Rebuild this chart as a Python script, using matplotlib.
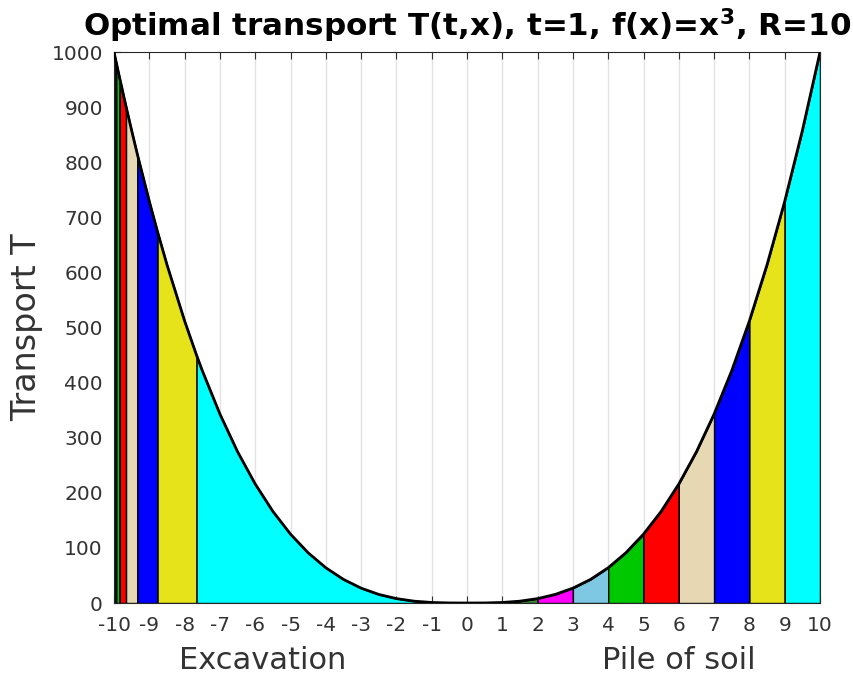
import matplotlib.pyplot as plt
import numpy as np

plt.rcParams['axes.unicode_minus'] = False

# curva T(x) (|x|^3), con los bordes de las franjas incluidos
x_curva = [-10, -9.996, -9.98, -9.935, -9.84, -9.659, -9.5, -9.337, -9, -8.766,
           -8.5, -8, -7.66, -7.5, -7, -6.5, -6, -5.5, -5, -4.5, -4, -3.5, -3,
           -2.5, -2, -1.5, -1, -0.5, 0, 0.5, 1, 1.5, 2, 2.5, 3, 3.5, 4, 4.5,
           5, 5.5, 6, 6.5, 7, 7.5, 8, 8.5, 9, 9.5, 10]
T_curva = [1000, 998.8, 994.01, 980.63, 952.76, 901.15, 857.38, 813.99, 729, 673.6,
           614.13, 512, 449.45, 421.88, 343, 274.63, 216, 166.38, 125, 91.13, 64, 42.88, 27,
           15.63, 8, 3.38, 1, 0.13, 0, 0.13, 1, 3.38, 8, 15.63, 27, 42.88, 64, 91.13,
           125, 166.38, 216, 274.63, 343, 421.88, 512, 614.13, 729, 857.38, 1000]

# franjas de la pila (derecha) y su excavacion correspondiente (izquierda)
pila_izq = [1, 2, 3, 4, 5, 6, 7, 8, 9]
pila_der = [2, 3, 4, 5, 6, 7, 8, 9, 10]
exc_izq = [-10, -9.996, -9.98, -9.935, -9.84, -9.659, -9.337, -8.766, -7.66]
exc_der = [-9.996, -9.98, -9.935, -9.84, -9.659, -9.337, -8.766, -7.66, 0]
colores = ['#3c8c3c', '#ff00ff', '#7ec8e3', '#00c800', '#ff0000',
           '#e6d8b2', '#0000ff', '#e6e31a', '#00ffff']

xt = list(range(-10, 11))
yt = list(range(0, 1001, 100))

x = np.array(x_curva)
T = np.array(T_curva)

fig = plt.figure(figsize=(8.54, 6.81), dpi=100)
ax = fig.add_axes([0.1335, 0.1145, 0.8267, 0.809])

def franja(lo, hi, c):
    m = (x >= lo - 1e-9) & (x <= hi + 1e-9)
    ax.fill_between(x[m], 0, T[m], facecolor=c, edgecolor='k', lw=1, zorder=2)

for i in range(len(colores)):
    franja(pila_izq[i], pila_der[i], colores[i])
    franja(exc_izq[i], exc_der[i], colores[i])

ax.plot(x, T, 'k-', lw=2, zorder=3)

ax.set_xlim(-10, 10)
ax.set_ylim(0, 1000)
ax.set_xticks(xt)
ax.set_yticks(yt)
ax.xaxis.grid(True, color='#e3e3e3', lw=1)
ax.set_axisbelow(True)
ax.tick_params(direction='in', top=True, length=5, labelsize=14.5,
               colors='#333333', width=0.8)
ax.tick_params(axis='x', pad=9)
ax.tick_params(axis='y', pad=8)
for s in ax.spines.values():
    s.set_color('#262626')
    s.set_linewidth(0.8)

ax.set_ylabel('Transport T', fontsize=24, color='#333333', labelpad=6)
ax.set_title(r'Optimal transport T(t,x), t=1, f(x)=x$^\mathbf{3}$, R=10',
             fontsize=22.3, fontweight='bold', pad=11)
ax.text(-5.8, -0.105, 'Excavation', transform=ax.get_xaxis_transform(),
        ha='center', va='center', fontsize=22, color='#333333')
ax.text(6.0, -0.105, 'Pile of soil', transform=ax.get_xaxis_transform(),
        ha='center', va='center', fontsize=22, color='#333333')

plt.savefig('out.png', dpi=100)
